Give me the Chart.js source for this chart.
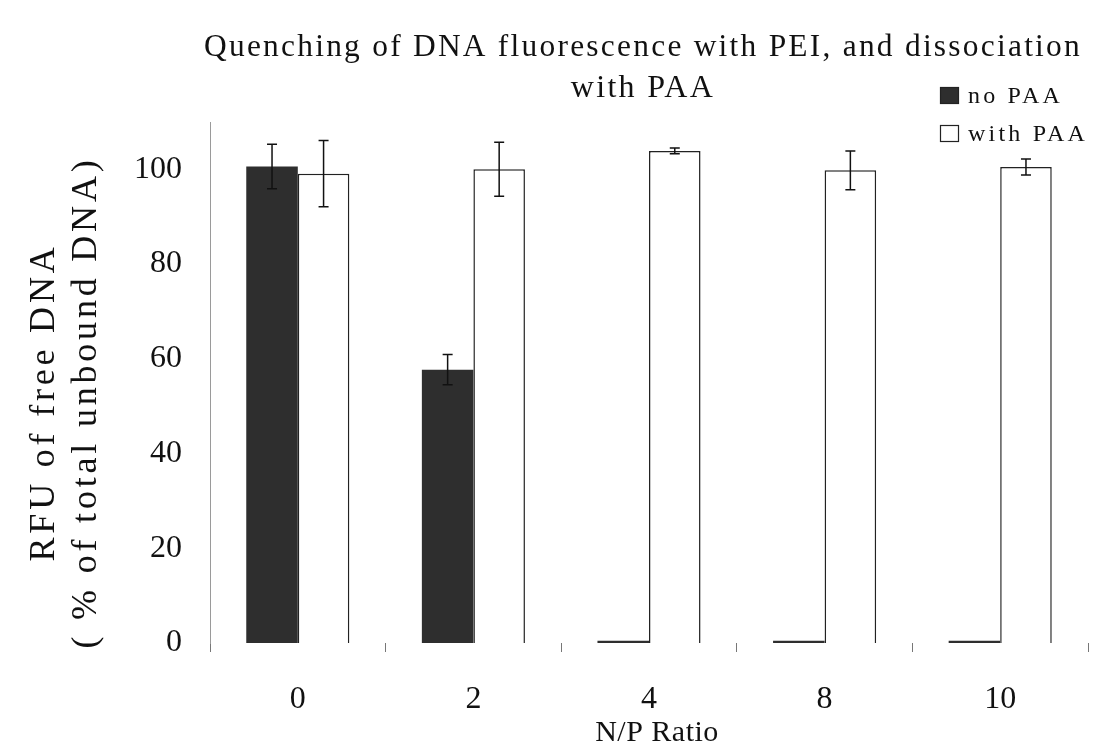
<!DOCTYPE html>
<html>
<head>
<meta charset="utf-8">
<script src="https://cdn.jsdelivr.net/npm/chart.js@4/dist/chart.umd.min.js"></script>
<style>
  html, body { margin: 0; padding: 0; background: #ffffff; }
  #wrap { width: 1104px; height: 755px; position: relative; }
</style>
</head>
<body>
<div id="wrap"><canvas id="c" width="1104" height="755"></canvas></div>
<script>
const categories = ['0', '2', '4', '8', '10'];
const noPAA = [100.6, 57.7, 0.5, 0.5, 0.5];
const noPAAErr = [4.7, 3.2, 0, 0, 0];
const withPAA = [99.1, 100.0, 103.9, 99.8, 100.5];
const withPAAErr = [7.0, 5.7, 0.6, 4.1, 1.7];
const seriesNames = ['no PAA', 'with PAA'];
const yTicks = [0, 20, 40, 60, 80, 100];
const titleLines = ['Quenching of DNA fluorescence with PEI, and dissociation', 'with PAA'];
const yTitleLines = ['RFU of free DNA', '( % of total unbound DNA)'];
const xTitle = 'N/P Ratio';

const FONT = "'Liberation Serif', 'Times New Roman', serif";

const errorBarPlugin = {
  id: 'errorBars',
  afterDatasetsDraw(chart) {
    const ctx = chart.ctx;
    const yScale = chart.scales.y;
    const errs = [noPAAErr, withPAAErr];
    ctx.save();
    ctx.strokeStyle = '#111';
    ctx.lineWidth = 1.5;
    chart.data.datasets.forEach((ds, di) => {
      const meta = chart.getDatasetMeta(di);
      meta.data.forEach((bar, i) => {
        const e = errs[di][i];
        if (!e) return;
        const v = ds.data[i];
        const x = bar.x;
        const yTop = yScale.getPixelForValue(v + e);
        const yBot = yScale.getPixelForValue(v - e);
        ctx.beginPath();
        ctx.moveTo(x, yTop); ctx.lineTo(x, yBot);
        ctx.moveTo(x - 5, yTop); ctx.lineTo(x + 5, yTop);
        ctx.moveTo(x - 5, yBot); ctx.lineTo(x + 5, yBot);
        ctx.stroke();
      });
    });
    ctx.restore();
  }
};

// Letter-spacing / small offsets for the titles (still drawn by Chart.js itself)
const spacingPlugin = {
  id: 'textSpacing',
  beforeDraw(chart) {
    const ctx = chart.ctx;
    const tb = chart.titleBlock;
    if (tb && !tb._spaced) {
      const orig = tb.draw.bind(tb);
      tb.draw = function () {
        ctx.save();
        ctx.translate(-6, 0);
        ctx.letterSpacing = '2.3px';
        orig();
        ctx.restore();
      };
      tb._spaced = true;
    }
    const ys = chart.scales.y;
    if (ys && !ys._spaced) {
      const origT = ys.drawTitle.bind(ys);
      ys.drawTitle = function () {
        ctx.save();
        ctx.translate(0, 20);
        ctx.letterSpacing = '3.8px';
        origT();
        ctx.restore();
      };
      ys._spaced = true;
    }
    const xs = chart.scales.x;
    if (xs && !xs._spaced) {
      const origX = xs.drawTitle.bind(xs);
      xs.drawTitle = function () {
        ctx.save();
        ctx.translate(8, 0);
        ctx.letterSpacing = '0.5px';
        origX();
        ctx.restore();
      };
      xs._spaced = true;
    }
  }
};

const legendPlugin = {
  id: 'customLegend',
  afterDraw(chart) {
    const ctx = chart.ctx;
    const x0 = chart.width - 164;
    const rows = [96, 134];
    ctx.save();
    ctx.font = '24px ' + FONT;
    ctx.letterSpacing = '3.2px';
    ctx.textBaseline = 'middle';
    ctx.textAlign = 'left';
    chart.data.datasets.forEach((ds, i) => {
      const cy = rows[i];
      ctx.fillStyle = ds.backgroundColor;
      ctx.fillRect(x0, cy - 9, 19, 17);
      ctx.strokeStyle = '#222';
      ctx.lineWidth = 1.2;
      ctx.strokeRect(x0 + 0.5, cy - 8.5, 18, 16);
      ctx.fillStyle = '#111';
      ctx.fillText(ds.label, x0 + 28, cy + 1);
    });
    ctx.restore();
  }
};

new Chart(document.getElementById('c'), {
  type: 'bar',
  data: {
    labels: categories,
    datasets: [
      { label: seriesNames[0], data: noPAA, backgroundColor: '#2e2e2e', borderColor: '#2e2e2e', borderWidth: 0,
        categoryPercentage: 0.587, barPercentage: 1.0 },
      { label: seriesNames[1], data: withPAA, backgroundColor: '#ffffff', borderColor: '#222222', borderWidth: 1.5,
        categoryPercentage: 0.587, barPercentage: 1.0 }
    ]
  },
  options: {
    responsive: false,
    animation: false,
    layout: { padding: { left: 0, right: 16, top: 0, bottom: 0 } },
    plugins: {
      legend: { display: false },
      tooltip: { enabled: false },
      title: {
        display: true,
        fullSize: false,
        text: titleLines,
        color: '#111',
        font: { family: FONT, size: 32, weight: 'normal', lineHeight: 41 / 32 },
        padding: { top: 27, bottom: 13 }
      }
    },
    scales: {
      x: {
        grid: { display: true, drawOnChartArea: false, drawTicks: true, tickLength: 9, color: '#777', lineWidth: 1, offset: true },
        border: { display: false },
        ticks: { color: '#111', font: { family: FONT, size: 32 }, padding: 28 },
        title: { display: true, text: xTitle, color: '#111', font: { family: FONT, size: 30 }, padding: { top: 0, bottom: 4 } },
        afterFit(scale) { scale.height = 112; }
      },
      y: {
        min: 0,
        max: 110,
        grid: { display: false, drawTicks: false },
        border: { display: true, color: '#9a9a9a', width: 1, dash: [2, 2] },
        afterBuildTicks(scale) { scale.ticks = yTicks.map(v => ({ value: v })); },
        ticks: { color: '#111', font: { family: FONT, size: 32 }, padding: 28, includeBounds: false },
        title: { display: true, text: yTitleLines, color: '#111', font: { family: FONT, size: 36, lineHeight: 42 / 36 }, padding: { top: 24, bottom: 0 } },
        afterFit(scale) { scale.width = 210; }
      }
    }
  },
  plugins: [spacingPlugin, errorBarPlugin, legendPlugin]
});
</script>
</body>
</html>
